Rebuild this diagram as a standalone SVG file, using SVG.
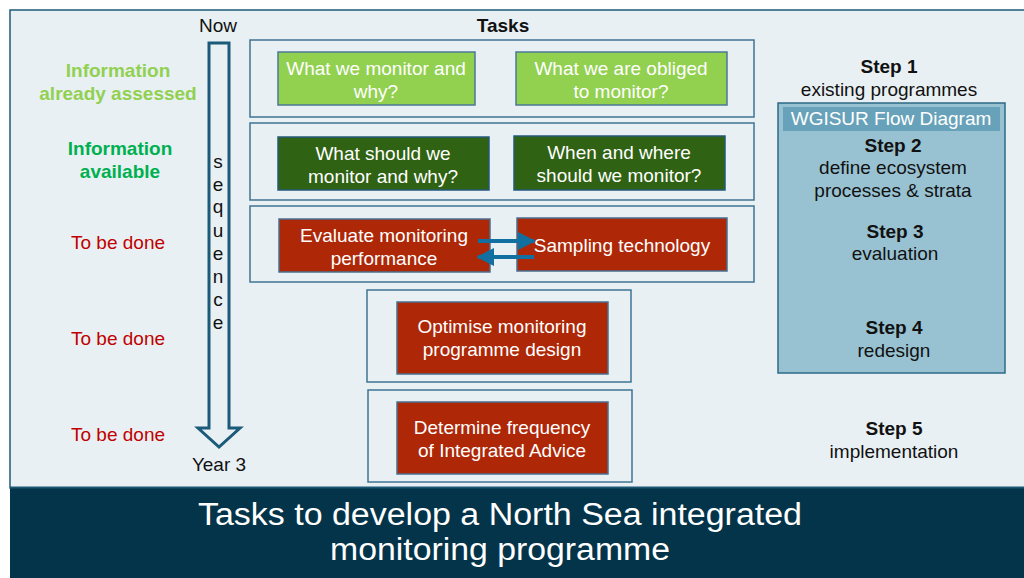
<svg xmlns="http://www.w3.org/2000/svg" width="1024" height="578" viewBox="0 0 1024 578">
<defs>
<style>
text{font-family:"Liberation Sans",Arial,sans-serif;font-size:19px;text-anchor:middle}
.b{font-weight:bold}
.w{fill:#ffffff}
.k{fill:#111111}
.frame{fill:none;stroke:#3f7393;stroke-width:1.5}
.lg{fill:#92d050;stroke:#4a7896;stroke-width:1.5}
.dg{fill:#2f6212;stroke:#24597a;stroke-width:1.5}
.rd{fill:#ae2707;stroke:#4a6f8e;stroke-width:1.5}
.red{fill:#c00000}
.title{font-size:31px}
.conn{stroke:#1170a0;stroke-width:4;fill:none}
</style>
<marker id="ah" viewBox="0 0 10 10" refX="9" refY="5" markerWidth="4.5" markerHeight="4.5" markerUnits="strokeWidth" orient="auto">
<path d="M0,0 L10,5 L0,10 z" fill="#1170a0"/>
</marker>
</defs>
<rect x="0" y="0" width="1024" height="578" fill="#ffffff"/>
<rect x="10" y="10" width="1016" height="478" fill="#e8f0f4" stroke="#1f5a7a" stroke-width="1.5"/>
<g id="bottom-band">
<rect x="10" y="487" width="1014" height="91" fill="#033449"/>
<line x1="10" y1="487.5" x2="1024" y2="487.5" stroke="#1b5674" stroke-width="2"/>
<text class="w title" x="500" y="525" textLength="604" lengthAdjust="spacingAndGlyphs">Tasks to develop a North Sea integrated</text>
<text class="w title" x="500" y="560" textLength="340" lengthAdjust="spacingAndGlyphs">monitoring programme</text>
</g>
<g id="sequence-arrow">
<path d="M209,43 L229,43 L229,428 L240,428 L219,447 L198,428 L209,428 Z" fill="#e8f0f4" stroke="#1b5a78" stroke-width="3" stroke-linejoin="miter"/>
<text class="k" x="218" y="32">Now</text>
<text class="k" x="219" y="471">Year 3</text>
<text class="k" x="218" y="168">s</text>
<text class="k" x="218" y="191">e</text>
<text class="k" x="218" y="213">q</text>
<text class="k" x="218" y="237">u</text>
<text class="k" x="218" y="260">e</text>
<text class="k" x="218" y="283">n</text>
<text class="k" x="218" y="306">c</text>
<text class="k" x="218" y="329">e</text>
</g>
<g id="left-labels">
<text class="b" x="118" y="77" fill="#92d050">Information</text>
<text class="b" x="118" y="100" fill="#92d050">already assessed</text>
<text class="b" x="120" y="155" fill="#00b050">Information</text>
<text class="b" x="120" y="178" fill="#00b050">available</text>
<text class="red" x="118" y="249">To be done</text>
<text class="red" x="118" y="345">To be done</text>
<text class="red" x="118" y="441">To be done</text>
</g>
<text class="b k" x="503" y="32">Tasks</text>
<g id="row1">
<rect class="frame" x="250" y="40" width="504" height="77"/>
<g id="task-monitor-why">
<rect class="lg" x="278" y="52" width="197" height="53"/>
<text class="w" x="376" y="75">What we monitor and</text>
<text class="w" x="376" y="98">why?</text>
</g>
<g id="task-obliged">
<rect class="lg" x="516" y="52" width="211" height="53"/>
<text class="w" x="621" y="75">What we are obliged</text>
<text class="w" x="621" y="98">to monitor?</text>
</g>
</g>
<g id="row2">
<rect class="frame" x="250" y="123" width="504" height="77"/>
<g id="task-should-monitor">
<rect class="dg" x="278" y="137" width="211" height="53"/>
<text class="w" x="383" y="160">What should we</text>
<text class="w" x="383" y="183">monitor and why?</text>
</g>
<g id="task-when-where">
<rect class="dg" x="514" y="136" width="211" height="54"/>
<text class="w" x="619" y="159">When and where</text>
<text class="w" x="619" y="182">should we monitor?</text>
</g>
</g>
<g id="row3">
<rect class="frame" x="250" y="206" width="504" height="76"/>
<g id="task-evaluate">
<rect class="rd" x="279" y="219" width="211" height="53"/>
<text class="w" x="384" y="242">Evaluate monitoring</text>
<text class="w" x="384" y="265">performance</text>
</g>
<g id="task-sampling">
<rect class="rd" x="517" y="218" width="210" height="53"/>
<text class="w" x="622" y="252">Sampling technology</text>
</g>
</g>
<g id="row4">
<rect class="frame" x="367" y="290" width="264" height="92"/>
<g id="task-optimise">
<rect class="rd" x="397" y="302" width="211" height="72"/>
<text class="w" x="502" y="333">Optimise monitoring</text>
<text class="w" x="502" y="356">programme design</text>
</g>
</g>
<g id="row5">
<rect class="frame" x="368" y="390" width="264" height="92"/>
<g id="task-frequency">
<rect class="rd" x="397" y="402" width="211" height="72"/>
<text class="w" x="502" y="434">Determine frequency</text>
<text class="w" x="502" y="457">of Integrated Advice</text>
</g>
</g>
<g id="connectors">
<line class="conn" x1="478" y1="241" x2="534" y2="241" marker-end="url(#ah)"/>
<line class="conn" x1="534" y1="257" x2="478" y2="257" marker-end="url(#ah)"/>
</g>
<g id="wgisur-panel">
<rect x="778" y="103" width="227" height="270" fill="#98c2d2" stroke="#2d6a86" stroke-width="1.5"/>
<rect x="783" y="107" width="217" height="24" fill="#67a2ba"/>
<text class="w" x="891" y="125">WGISUR Flow Diagram</text>
</g>
<g id="steps">
<text class="b k" x="889" y="73">Step 1</text>
<text class="k" x="889" y="96">existing programmes</text>
<text class="b k" x="893" y="152">Step 2</text>
<text class="k" x="893" y="174">define ecosystem</text>
<text class="k" x="893" y="197">processes &amp; strata</text>
<text class="b k" x="895" y="238">Step 3</text>
<text class="k" x="895" y="260">evaluation</text>
<text class="b k" x="894" y="334">Step 4</text>
<text class="k" x="894" y="357">redesign</text>
<text class="b k" x="894" y="435">Step 5</text>
<text class="k" x="894" y="458">implementation</text>
</g>
</svg>
